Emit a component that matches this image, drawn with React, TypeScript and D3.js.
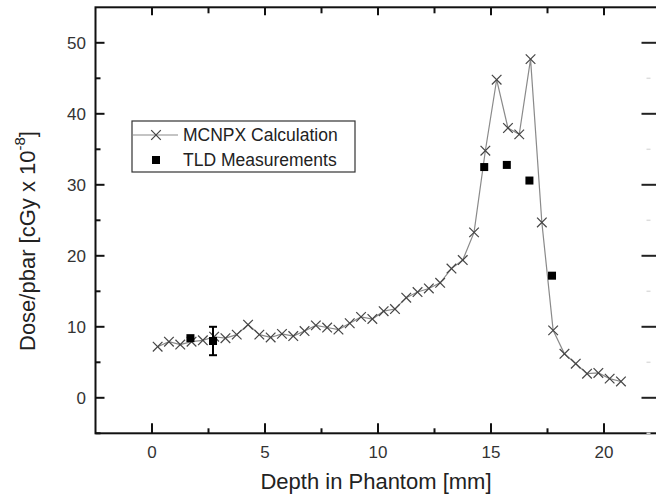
import React from 'react';
import * as d3 from 'd3';

const depthCalc = [0.25, 0.75, 1.25, 1.75, 2.25, 2.75, 3.25, 3.75, 4.25, 4.75, 5.25, 5.75, 6.25, 6.75, 7.25, 7.75, 8.25, 8.75, 9.25, 9.75, 10.25, 10.75, 11.25, 11.75, 12.25, 12.75, 13.25, 13.75, 14.25, 14.75, 15.25, 15.75, 16.25, 16.75, 17.25, 17.75, 18.25, 18.75, 19.25, 19.75, 20.25, 20.75];
const doseCalc = [7.2, 7.9, 7.5, 7.9, 8.1, 8.6, 8.4, 8.9, 10.3, 8.9, 8.5, 9.0, 8.7, 9.4, 10.2, 9.9, 9.6, 10.5, 11.4, 11.1, 12.2, 12.5, 14.1, 14.9, 15.4, 16.2, 18.2, 19.4, 23.3, 34.8, 44.8, 38.0, 37.1, 47.7, 24.7, 9.5, 6.2, 4.8, 3.4, 3.5, 2.7, 2.3];
const depthTLD = [1.7, 2.7, 14.7, 15.7, 16.7, 17.7];
const doseTLD = [8.4, 8.0, 32.5, 32.8, 30.6, 17.2];
const errTLD = [0, 2.0, 0, 0, 0, 0];
const xMajor = [0, 5, 10, 15, 20];
const xMinor = [2.5, 7.5, 12.5, 17.5];
const yMajor = [0, 10, 20, 30, 40, 50];
const yMinor = [-5, 5, 15, 25, 35, 45];
const seriesNames = ['MCNPX Calculation', 'TLD Measurements'];
const xTitle = 'Depth in Phantom [mm]';

const FONT = 'Liberation Sans, Arial, sans-serif';

export default function App() {
  const W = 656, H = 498;
  const x = d3.scaleLinear().domain([-2.5, 22.5]).range([95.5, 660.5]);
  const y = d3.scaleLinear().domain([-5, 55]).range([433.3, 7.3]);
  const L = x(-2.5), R = x(22.5), T = y(55), B = y(-5);

  const calc = depthCalc.map((d, i) => [d, doseCalc[i]] as [number, number]);
  const line = d3.line<[number, number]>().x(d => x(d[0])).y(d => y(d[1]));

  const cross = (cx: number, cy: number, key: string | number, s = 4.8) => (
    <g key={key} stroke="#444" strokeWidth={1.2}>
      <line x1={cx - s} y1={cy - s} x2={cx + s} y2={cy + s} />
      <line x1={cx - s} y1={cy + s} x2={cx + s} y2={cy - s} />
    </g>
  );

  return (
    <svg width={W} height={H} style={{ position: 'absolute', left: 0, top: 0, background: '#fff' }} fontFamily={FONT}>
      <rect x={0} y={0} width={W} height={H} fill="#fff" />
      <path d={line(calc) || ''} fill="none" stroke="#8a8a8a" strokeWidth={1.2} />
      {calc.map((d, i) => cross(x(d[0]), y(d[1]), i))}
      {depthTLD.map((d, i) => (
        <g key={'t' + i}>
          {errTLD[i] > 0 && (
            <g stroke="#000" strokeWidth={2}>
              <line x1={x(d)} x2={x(d)} y1={y(doseTLD[i] - errTLD[i])} y2={y(doseTLD[i] + errTLD[i])} />
              <line x1={x(d) - 4} x2={x(d) + 4} y1={y(doseTLD[i] - errTLD[i])} y2={y(doseTLD[i] - errTLD[i])} />
              <line x1={x(d) - 4} x2={x(d) + 4} y1={y(doseTLD[i] + errTLD[i])} y2={y(doseTLD[i] + errTLD[i])} />
            </g>
          )}
          <rect x={x(d) - 4} y={y(doseTLD[i]) - 4} width={8} height={8} fill="#000" />
        </g>
      ))}
      <rect x={L} y={T} width={R - L} height={B - T} fill="none" stroke="#111" strokeWidth={2} />
      {xMajor.map(v => <line key={'bx' + v} x1={x(v)} x2={x(v)} y1={B} y2={B - 10} stroke="#111" strokeWidth={2} />)}
      {xMinor.map(v => <line key={'bm' + v} x1={x(v)} x2={x(v)} y1={B} y2={B - 5} stroke="#111" strokeWidth={2} />)}
      {xMajor.map(v => <line key={'tx' + v} x1={x(v)} x2={x(v)} y1={T} y2={T + 8} stroke="#111" strokeWidth={2} />)}
      {xMinor.map(v => <line key={'tm' + v} x1={x(v)} x2={x(v)} y1={T} y2={T + 6} stroke="#111" strokeWidth={2} />)}
      {yMajor.map(v => <line key={'ly' + v} x1={L} x2={L + 9} y1={y(v)} y2={y(v)} stroke="#111" strokeWidth={2} />)}
      {yMinor.map(v => <line key={'lm' + v} x1={L} x2={L + 5} y1={y(v)} y2={y(v)} stroke="#111" strokeWidth={2} />)}
      {yMajor.map(v => <line key={'ry' + v} x1={R} x2={R - 19} y1={y(v)} y2={y(v)} stroke="#222" strokeWidth={2} />)}
      {yMinor.map(v => <line key={'rm' + v} x1={R - 10} x2={R - 14} y1={y(v)} y2={y(v)} stroke="#ddd" strokeWidth={1.5} />)}
      {xMajor.map(v => (
        <text key={'xl' + v} x={x(v)} y={458} textAnchor="middle" fontSize={17} fill="#333">{v}</text>
      ))}
      {yMajor.map(v => (
        <text key={'yl' + v} x={86} y={y(v) + 6} textAnchor="end" fontSize={17} fill="#333">{v}</text>
      ))}
      <text x={376} y={489} textAnchor="middle" fontSize={22} fill="#222">{xTitle}</text>
      <text transform={`translate(35,241) rotate(-90)`} textAnchor="middle" fontSize={22} fill="#222">
        Dose/pbar [cGy x 10<tspan fontSize={15} dy={-10}>-8</tspan><tspan dy={10}>]</tspan>
      </text>
      <rect x={132} y={121} width={223} height={51} fill="#fff" stroke="#333" strokeWidth={1.2} />
      <line x1={133} x2={178} y1={135} y2={135} stroke="#8a8a8a" strokeWidth={1.2} />
      {cross(156, 135, 'lc')}
      <text x={183} y={141} fontSize={17.5} fill="#222">{seriesNames[0]}</text>
      <rect x={152} y={156} width={8} height={8} fill="#000" />
      <text x={183} y={166} fontSize={17.5} fill="#222">{seriesNames[1]}</text>
    </svg>
  );
}
